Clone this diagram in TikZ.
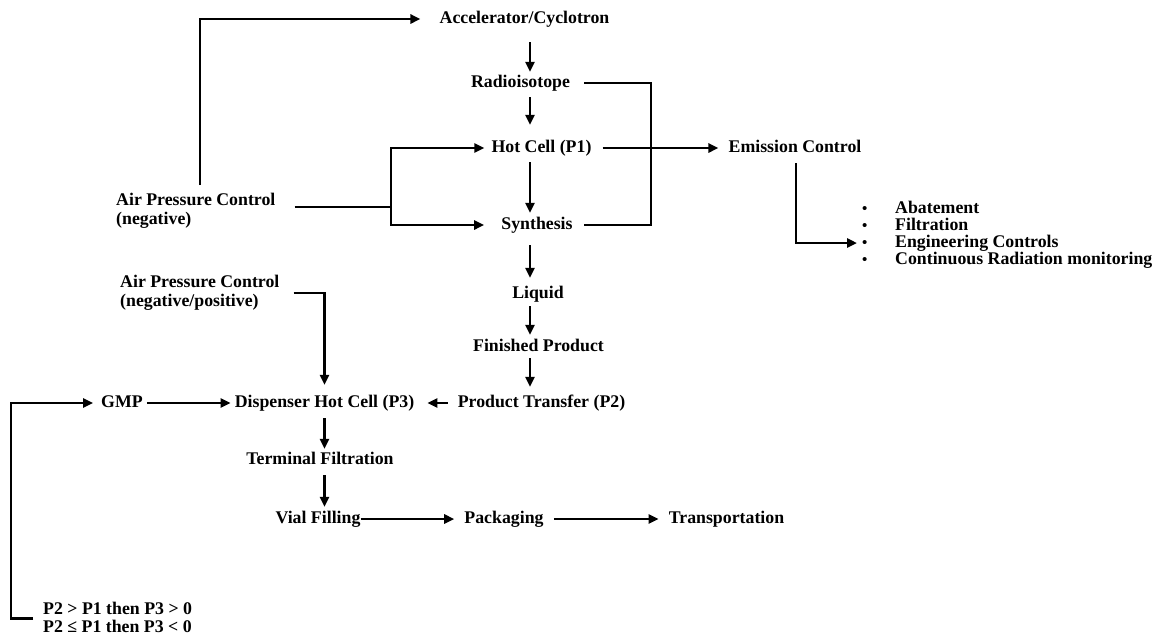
\documentclass[tikz,border=0pt]{standalone}
\usepackage{fontspec}
\setmainfont{Liberation Serif}
\usetikzlibrary{arrows.meta}

\tikzset{
    lbl/.style={font=\bfseries\fontsize{17.8}{19}\selectfont, inner xsep=0pt, inner ysep=2pt, text height=12pt, text depth=4pt},
    note/.style={font=\bfseries\fontsize{17.8}{19}\selectfont, align=left, inner xsep=0pt, inner ysep=2pt, anchor=west},
    wire/.style={line width=2.8pt},
    flow/.style={wire, -{Triangle[length=10pt,width=9pt]}},
}

\begin{document}
\begin{tikzpicture}[x=1pt, y=-1pt]
    \useasboundingbox (0,0) rectangle (1159,638);

    % main column
    \node[lbl] (acc) at (524.5, 19) {Accelerator/Cyclotron};
    \node[lbl] (radio) at (520.5, 83) {Radioisotope};
    \node[lbl] (hot) at (541.5, 148) {Hot Cell (P1)};
    \node[lbl] (synth) at (537, 225) {Synthesis};
    \node[lbl] (liquid) at (538, 294) {Liquid};
    \node[lbl] (fin) at (538.5, 347) {Finished Product};
    \node[lbl] (pt) at (541.5, 403) {Product Transfer (P2)};

    % dispensing line
    \node[lbl] (gmp) at (122, 403) {GMP};
    \node[lbl] (disp) at (324.5, 403) {Dispenser Hot Cell (P3)};
    \node[lbl] (term) at (320, 460) {Terminal Filtration};
    \node[lbl] (vial) at (318, 519) {Vial Filling};
    \node[lbl] (pack) at (504, 519) {Packaging};
    \node[lbl] (trans) at (726.5, 519) {Transportation};

    % controls
    \node[note] (air) at (116, 211) {Air Pressure Control\\(negative)};
    \node[note] (air2) at (120, 293) {Air Pressure Control\\(negative/positive)};
    \node[lbl] (emis) at (795, 148) {Emission Control};
    \node[lbl, anchor=west] (cond1) at (43, 610) {P2 > P1 then P3 > 0};
    \node[lbl, anchor=west] (cond2) at (43, 628) {P2 ≤ P1 then P3 < 0};
    \foreach \txt [count=\i] in {Abatement, Filtration, Engineering Controls, Continuous Radiation monitoring}
        \node[lbl, anchor=west] (b\i) at (862, 192+17*\i) {\makebox[33pt][l]{\fontsize{15}{15}\selectfont\textbullet}\txt};

    \coordinate (spine) at (530, 0);
    \coordinate (split) at (391, 207);
    \coordinate (loopr) at (651, 0);
    \coordinate (emdown) at (796, 0);
    \coordinate (airup) at (200, 0);
    \coordinate (loopl) at (11, 0);

    % vertical flow
    \draw[flow, shorten <=13pt, shorten >=1pt] (acc.south -| spine) -- (radio.north -| spine);
    \draw[flow, shorten <=4pt, shorten >=13pt] (radio.south -| spine) -- (hot.north -| spine);
    \draw[flow, shorten <=4pt, shorten >=2pt] (hot.south -| spine) -- (synth.north -| spine);
    \draw[flow, shorten <=10pt, shorten >=6pt] (synth.south -| spine) -- (liquid.north -| spine);
    \draw[flow, shorten <=2pt, shorten >=2pt] (liquid.south -| spine) -- (fin.north -| spine);
    \draw[flow, shorten <=1pt, shorten >=6pt] (fin.south -| spine) -- (pt.north -| spine);
    \draw[flow, shorten <=5pt, shorten >=1pt] (disp.south) -- (disp.south |- term.north);
    \draw[flow, shorten <=5pt, shorten >=2pt] (term.south -| disp.south) -- (vial.north -| disp.south);

    % horizontal flow
    \draw[flow, shorten <=10pt, shorten >=13pt] (pt) -- (disp);
    \draw[flow, shorten <=4pt, shorten >=4pt] (gmp) -- (disp);
    \draw[flow, shorten >=10pt] (vial) -- (pack);
    \draw[flow, shorten <=10pt, shorten >=10pt] (pack) -- (trans);
    \draw[flow, shorten <=11pt, shorten >=10pt] (hot) -- (emis);

    % air and emission control
    \draw[flow, shorten <=6pt, shorten >=19pt] (air.north -| airup) |- (acc);
    \draw[wire, shorten <=19pt] (air.east |- split) -- (split);
    \draw[flow, shorten >=7pt] (split) |- (hot);
    \draw[flow, shorten >=17pt] (split) |- (synth);
    \draw[wire, shorten <=14pt, shorten >=11pt] (radio.east) -| (loopr |- synth) -- (synth.east);
    \draw[flow, shorten <=5pt, shorten >=5pt] (emis.south -| emdown) |- (b3);
    \draw[flow, shorten <=14pt, shorten >=8pt] (air2.east) -| (disp);
    \draw[flow, shorten <=10pt, shorten >=8pt] ([yshift=2pt]cond1.south west) -| (loopl |- gmp) -- (gmp);
\end{tikzpicture}
\end{document}
